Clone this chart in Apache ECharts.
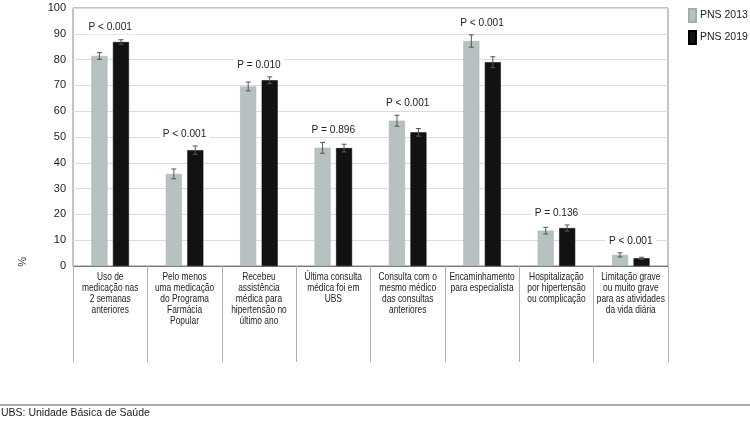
<!DOCTYPE html>
<html>
<head>
<meta charset="utf-8">
<script src="https://cdn.jsdelivr.net/npm/echarts@6/dist/echarts.min.js"></script>
<style>html,body{margin:0;padding:0;background:#fff}#c{width:750px;height:421px}</style>
</head>
<body>
<div id="c"></div>
<script>
const categories = [
  "Uso de\nmedicação nas\n2 semanas\nanteriores",
  "Pelo menos\numa medicação\ndo Programa\nFarmácia\nPopular",
  "Recebeu\nassistência\nmédica para\nhipertensão no\núltimo ano",
  "Última consulta\nmédica foi em\nUBS",
  "Consulta com o\nmesmo médico\ndas consultas\nanteriores",
  "Encaminhamento\npara especialista",
  "Hospitalização\npor hipertensão\nou complicação",
  "Limitação grave\nou muito grave\npara as atividades\nda vida diária"
];
const pns2013 = [81.4, 35.7, 69.6, 45.8, 56.3, 87.2, 13.7, 4.3];
const err2013 = [1.3, 1.9, 1.7, 2.1, 2.1, 2.4, 1.3, 0.8];
const pns2019 = [86.8, 44.9, 72.0, 45.7, 51.8, 79.0, 14.7, 3.0];
const err2019 = [0.9, 1.6, 1.3, 1.5, 1.5, 2.1, 1.2, 0.4];
const pLabels = ["P < 0.001", "P < 0.001", "P = 0.010", "P = 0.896", "P < 0.001", "P < 0.001", "P = 0.136", "P < 0.001"];
const yTicks = [0, 10, 20, 30, 40, 50, 60, 70, 80, 90, 100];

const SANS = "'Liberation Sans', Arial, sans-serif";
const BAR_W = 16, BAR_GAP = 5.5;

const errData = categories.map((c, i) => [i, pns2013[i], err2013[i], pns2019[i], err2019[i]]);
const lblData = categories.map((c, i) => [i, Math.max(pns2013[i] + err2013[i], pns2019[i] + err2019[i])]);
const catData = categories.map((c, i) => [i, 0]);

function errBar(api, cx, val, err) {
  const top = api.coord([api.value(0), val + err])[1];
  const bot = api.coord([api.value(0), val - err])[1];
  const st = {stroke: '#555', lineWidth: 1};
  return [
    {type: 'line', shape: {x1: cx, y1: top, x2: cx, y2: bot}, style: st},
    {type: 'line', shape: {x1: cx - 2.5, y1: top, x2: cx + 2.5, y2: top}, style: st},
    {type: 'line', shape: {x1: cx - 2.5, y1: bot, x2: cx + 2.5, y2: bot}, style: st}
  ];
}

const chart = echarts.init(document.getElementById('c'), null, {renderer: 'canvas'});
chart.setOption({
  animation: false,
  backgroundColor: '#fff',
  grid: {left: 73, right: 82, top: 8, bottom: 155, show: true, borderColor: '#8a8a8a', borderWidth: 1},
  legend: {
    orient: 'vertical', left: 686, top: 6, itemWidth: 7, itemHeight: 13, itemGap: 7,
    icon: 'rect', padding: [2, 2],
    textStyle: {fontFamily: SANS, fontSize: 10.5, color: '#222', padding: [0, 0, 0, -1]},
    data: ['PNS 2013', 'PNS 2019']
  },
  xAxis: {
    type: 'category', data: categories,
    axisLine: {lineStyle: {color: '#777'}},
    axisTick: {show: true, interval: 0, length: 96, lineStyle: {color: '#b0b0b0'}},
    axisLabel: {show: false, interval: 0}
  },
  yAxis: {
    type: 'value', min: 0, max: 100, interval: 10,
    axisLine: {show: false}, axisTick: {show: false},
    splitLine: {lineStyle: {color: '#dcdcdc'}},
    axisLabel: {margin: 7, fontFamily: SANS, fontSize: 11, color: '#222',
      formatter: v => yTicks.indexOf(v) >= 0 ? String(v) : ''}
  },
  graphic: [
    {type: 'text', left: 17, top: 257, rotation: Math.PI / 2, style: {text: '%', fontSize: 11, fill: '#333', fontFamily: SANS}},
    {type: 'line', shape: {x1: 0, y1: 405, x2: 750, y2: 405}, style: {stroke: '#aaa', lineWidth: 2}},
    {type: 'text', left: 1, top: 408, style: {text: 'UBS: Unidade Básica de Saúde', fontSize: 10.5, fill: '#222', fontFamily: SANS}}
  ],
  series: [
    {name: 'PNS 2013', type: 'bar', data: pns2013, barWidth: BAR_W, barGap: (BAR_GAP / BAR_W * 100) + '%',
      itemStyle: {color: '#b8c1c1', borderColor: '#a5aeae', borderWidth: 0.5}},
    {name: 'PNS 2019', type: 'bar', data: pns2019, barWidth: BAR_W,
      itemStyle: {color: '#121212', borderColor: '#000', borderWidth: 0.5}},
    {type: 'custom', data: errData, z: 5, silent: true,
      renderItem: (params, api) => {
        const cx = api.coord([api.value(0), 0])[0];
        const off = (BAR_W + BAR_GAP) / 2;
        return {type: 'group', children:
          errBar(api, cx - off, api.value(1), api.value(2)).concat(errBar(api, cx + off, api.value(3), api.value(4)))};
      }},
    {type: 'custom', data: lblData, z: 6, silent: true,
      renderItem: (params, api) => {
        const p = api.coord([api.value(0), api.value(1)]);
        return {type: 'text', x: p[0], y: p[1] - 12.5, scaleX: 0.88,
          style: {text: pLabels[params.dataIndex], x: 0, y: 0,
          align: 'center', verticalAlign: 'middle', fontSize: 11.5, fontFamily: SANS,
          fill: '#222', backgroundColor: '#fff', padding: [1, 4]}};
      }},
    {type: 'custom', data: catData, z: 6, silent: true, clip: false,
      renderItem: (params, api) => {
        const p = api.coord([api.value(0), 0]);
        return {type: 'text', x: p[0], y: p[1] + 5.5, scaleX: 0.8,
          style: {text: categories[params.dataIndex], x: 0, y: 0,
          align: 'center', verticalAlign: 'top', fontSize: 10.5, lineHeight: 11, fontFamily: SANS, fill: '#222'}};
      }}
  ]
});
</script>
</body>
</html>
